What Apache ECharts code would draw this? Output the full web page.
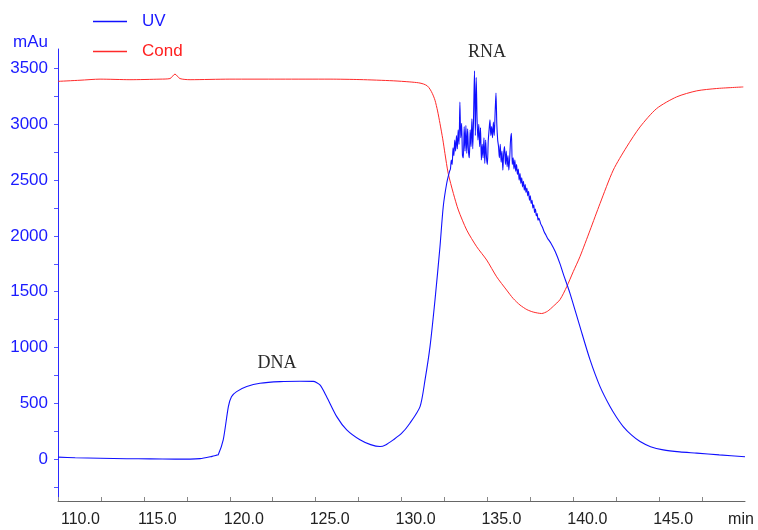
<!DOCTYPE html>
<html>
<head>
<meta charset="utf-8">
<script src="https://cdn.jsdelivr.net/npm/echarts/dist/echarts.min.js"></script>
<style>
  html, body { margin: 0; padding: 0; background: #fff; }
  #chart { width: 758px; height: 530px; }
</style>
</head>
<body>
<div id="chart"></div>
<script>
// UV trace [min, mAu]
var uvTrace = [
    [110.0, 18], [111.0, 12], [112.45, 8], [114.0, 4], [115.36, 2], [116.81, 0], [118.27, 5],
    [118.97, 25], [119.24, 36], [119.33, 40], [119.62, 173], [119.92, 471], [120.1, 560],
    [120.4, 605], [120.99, 650], [121.76, 680], [122.93, 695], [124.09, 698], [124.86, 697],
    [125.25, 665], [125.64, 560], [126.23, 381], [126.81, 262], [127.58, 173], [128.2, 130],
    [128.75, 113], [129.1, 130], [129.52, 173], [130.0, 230], [130.49, 322], [131.08, 471],
    [131.37, 710], [131.66, 1008], [131.95, 1426], [132.24, 1903], [132.43, 2261],
    [132.63, 2470], [132.8, 2580],
    // noisy RNA peak
    [132.85, 2600], [132.90, 2680], [132.95, 2640], [133.00, 2790], [133.05, 2720],
    [133.10, 2860], [133.15, 2760], [133.20, 2900], [133.25, 2780], [133.30, 2950],
    [133.35, 2820], [133.40, 3200], [133.45, 2880], [133.50, 3010], [133.55, 2720],
    [133.60, 2700], [133.65, 2980], [133.70, 2760], [133.75, 2990], [133.80, 2740],
    [133.85, 2960], [133.90, 2760], [133.95, 2700], [134.00, 2950], [134.05, 2800],
    [134.10, 3050], [134.15, 2780], [134.20, 3100], [134.25, 3480], [134.30, 2900],
    [134.35, 3420], [134.40, 3050], [134.45, 2860], [134.50, 3000], [134.55, 2800],
    [134.60, 2970], [134.65, 2680], [134.70, 2820], [134.75, 2700], [134.80, 2880],
    [134.85, 2650], [134.90, 2860], [134.95, 2700], [135.00, 2640], [135.05, 2850],
    [135.10, 2950], [135.15, 3040], [135.20, 2900], [135.25, 2980], [135.30, 2880],
    [135.35, 3020], [135.40, 2900], [135.45, 3100], [135.50, 3280], [135.55, 3000],
    [135.60, 2860], [135.65, 2800], [135.70, 2700], [135.75, 2820], [135.80, 2660],
    [135.85, 2760], [135.90, 2590], [135.95, 2740], [136.00, 2800], [136.05, 2640],
    [136.10, 2760], [136.15, 2620], [136.20, 2720], [136.25, 2590], [136.30, 2700],
    [136.35, 2860], [136.40, 2920], [136.45, 2640], [136.50, 2700], [136.55, 2600],
    [136.60, 2680], [136.65, 2580], [136.70, 2640], [136.75, 2550], [136.80, 2600],
    [136.85, 2500], [136.90, 2560], [136.95, 2470], [137.00, 2520], [137.05, 2440],
    [137.10, 2490], [137.15, 2410], [137.20, 2460], [137.25, 2390], [137.30, 2430],
    [137.35, 2360], [137.40, 2400], [137.45, 2320], [137.50, 2360], [137.55, 2290],
    [137.60, 2320], [137.65, 2250], [137.70, 2280], [137.75, 2210], [137.80, 2240],
    [137.85, 2180], [137.90, 2200], [137.95, 2140], [138.00, 2160], [138.10, 2110],
    [138.20, 2080], [138.30, 2040], [138.40, 2010], [138.50, 1980],
    // tail
    [138.70, 1935], [138.95, 1860], [139.23, 1750], [139.42, 1660], [139.81, 1486],
    [140.39, 1187], [140.98, 889], [141.56, 650], [142.14, 471], [142.5, 380], [142.91, 292],
    [143.4, 215], [143.89, 158], [144.5, 112], [145.24, 83], [146.2, 65], [147.19, 54],
    [148.5, 38], [150.0, 22]
];

// Cond trace [min, value on the same scale]
var condTrace = [
    [110.0, 3385], [111.28, 3395], [112.45, 3405], [114.19, 3400], [115.94, 3405],
    [116.52, 3410], [116.81, 3450], [117.10, 3410], [117.69, 3400], [120.01, 3405],
    [122.93, 3405], [125.84, 3405], [127.58, 3401], [129.52, 3390], [130.49, 3380],
    [131.0, 3372], [131.27, 3362], [131.5, 3345], [131.66, 3315], [131.8, 3275],
    [131.95, 3216], [132.1, 3120], [132.24, 3008], [132.4, 2870], [132.53, 2739],
    [132.72, 2560], [133.02, 2381], [133.31, 2232], [133.80, 2052], [134.38, 1903],
    [134.96, 1784], [135.54, 1634], [136.12, 1515], [136.5, 1440], [136.90, 1381],
    [137.3, 1340], [137.67, 1318], [138.16, 1305], [138.5, 1325], [138.84, 1370],
    [139.23, 1430], [139.62, 1545], [140.0, 1680], [140.39, 1814], [140.98, 2052],
    [141.56, 2291], [142.33, 2590], [143.11, 2798], [143.89, 2977], [144.86, 3142],
    [146.02, 3246], [147.19, 3300], [148.35, 3321], [149.9, 3335]
];

var xTicks = [110, 112.5, 115, 117.5, 120, 122.5, 125, 127.5, 130, 132.5, 135, 137.5, 140, 142.5, 145, 147.5];
var xLabels = [110, 115, 120, 125, 130, 135, 140, 145];
var yTicks = [-250, 0, 250, 500, 750, 1000, 1250, 1500, 1750, 2000, 2250, 2500, 2750, 3000, 3250, 3500];
var yLabels = [0, 500, 1000, 1500, 2000, 2500, 3000, 3500];

var peakNames = ['DNA', 'RNA'];
var peakAt = [[122.75, 860], [134.98, 3646]];

var myChart = echarts.init(document.getElementById('chart'));

var option = {
    animation: false,
    backgroundColor: '#fff',
    grid: { left: 58, right: 13, top: 49, bottom: 29 },
    legend: {
        orient: 'vertical',
        left: 88,
        top: 8,
        itemWidth: 34,
        itemHeight: 1.5,
        itemGap: 13,
        icon: 'rect',
        textStyle: { fontFamily: 'Liberation Sans', fontSize: 17, padding: [0, 0, 0, 10] },
        data: [
            { name: 'UV', textStyle: { color: '#1a1aff' } },
            { name: 'Cond', textStyle: { color: '#ff2020' } }
        ]
    },
    xAxis: {
        type: 'value',
        min: 110,
        max: 150,
        name: 'min',
        nameLocation: 'end',
        nameGap: -4,
        nameTextStyle: {
            color: '#222', fontFamily: 'Liberation Sans', fontSize: 16,
            align: 'center', verticalAlign: 'top', padding: [11, 0, 0, 0]
        },
        axisLine: { onZero: false, lineStyle: { color: '#666', width: 1 } },
        axisTick: { inside: true, length: 4, customValues: xTicks, lineStyle: { color: '#888' } },
        axisLabel: {
            customValues: xLabels,
            color: '#222',
            fontFamily: 'Liberation Sans',
            fontSize: 16,
            margin: 11,
            align: 'left',
            formatter: function (v) {
                if (v === 110) return '{f|' + v.toFixed(1) + '}';
                return '{n|' + v.toFixed(1) + '}';
            },
            rich: {
                f: { fontFamily: 'Liberation Sans', fontSize: 16, color: '#222', padding: [0, 0, 0, 3] },
                n: { fontFamily: 'Liberation Sans', fontSize: 16, color: '#222', padding: [0, 0, 0, -6] }
            }
        },
        splitLine: { show: false }
    },
    yAxis: {
        type: 'value',
        min: -375,
        max: 3675,
        name: 'mAu',
        nameLocation: 'end',
        nameGap: -2,
        nameTextStyle: {
            color: '#1a1aff', fontFamily: 'Liberation Sans', fontSize: 17,
            align: 'right', verticalAlign: 'bottom', padding: [0, 10, 0, 0]
        },
        axisLine: { show: true, lineStyle: { color: '#2a2aff', width: 1 } },
        axisTick: { show: true, length: 4, customValues: yTicks, lineStyle: { color: '#5555ff' } },
        axisLabel: {
            customValues: yLabels,
            color: '#1a1aff',
            fontFamily: 'Liberation Sans',
            fontSize: 17,
            margin: 10,
            padding: [4, 0, 0, 0],
            formatter: function (v) { return String(v); }
        },
        splitLine: { show: false }
    },
    series: [
        {
            name: 'UV',
            type: 'line',
            data: uvTrace,
            showSymbol: false,
            smooth: 0.25,
            color: '#1010ff',
            lineStyle: { color: '#1010ff', width: 1.1 },
            z: 3,
            markPoint: {
                symbol: 'circle',
                symbolSize: 0,
                label: {
                    show: true,
                    position: 'inside',
                    color: '#2a2a2a',
                    fontFamily: 'Liberation Serif',
                    fontSize: 18,
                    formatter: function (p) { return p.name; }
                },
                data: peakNames.map(function (n, i) {
                    return { name: n, coord: peakAt[i] };
                })
            }
        },
        {
            name: 'Cond',
            type: 'line',
            data: condTrace,
            showSymbol: false,
            smooth: 0.25,
            color: '#ff2a2a',
            lineStyle: { color: '#ff2a2a', width: 1 },
            z: 2
        }
    ]
};

myChart.setOption(option);
</script>
</body>
</html>
